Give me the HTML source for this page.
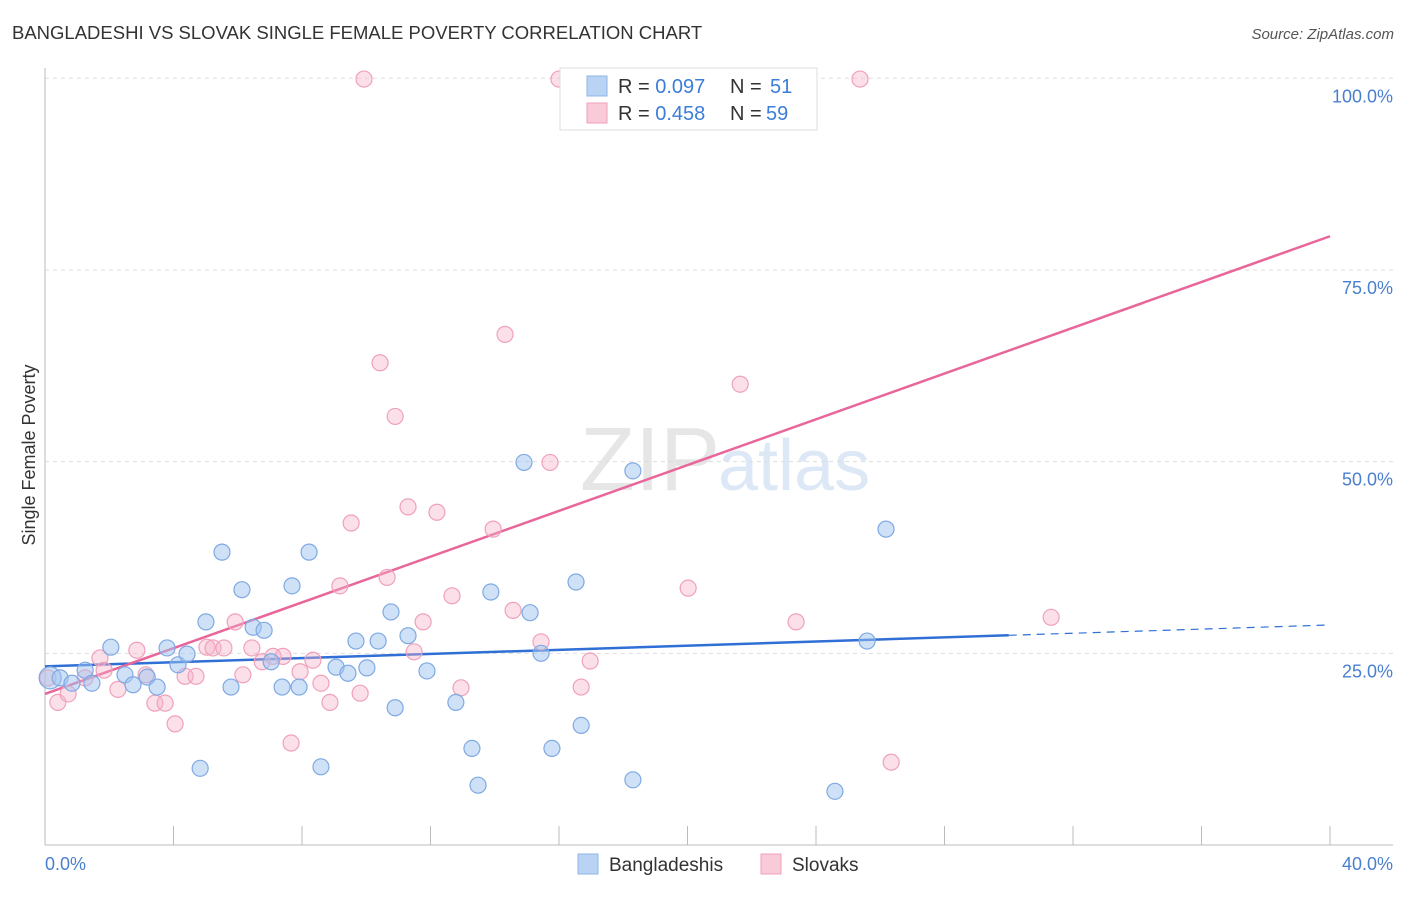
<!DOCTYPE html>
<html><head><meta charset="utf-8"><style>
body{margin:0;background:#fff;font-family:"Liberation Sans",sans-serif}
svg text{font-family:"Liberation Sans",sans-serif}
</style></head><body>
<svg id="chart" width="1406" height="892">
<text x="12" y="39" font-size="18.5" fill="#333">BANGLADESHI VS SLOVAK SINGLE FEMALE POVERTY CORRELATION CHART</text>
<text x="1394" y="39" font-size="15" fill="#555" font-style="italic" text-anchor="end">Source: ZipAtlas.com</text>
<text x="720" y="490" font-size="90" fill="#e6e6e6" text-anchor="end" font-family="Liberation Serif">ZIP</text>
<text x="718" y="490" font-size="72" fill="#dde8f6">atlas</text>
<g id="grid"></g><g id="axes"></g><g id="trends"></g><g id="points"></g>
<text x="35" y="455" font-size="18" fill="#333" text-anchor="middle" transform="rotate(-90 35 455)">Single Female Poverty</text>
<g>
<rect x="560" y="68" width="257" height="62" fill="#fff" stroke="#ddd"/>
<rect x="587" y="76" width="20" height="20" fill="#b9d3f4" stroke="#8fb6e8"/>
<rect x="587" y="103" width="20" height="20" fill="#f9cad8" stroke="#f0a0bb"/>
<text x="618" y="93" font-size="20" fill="#333">R = <tspan fill="#3b7dd8">0.097</tspan></text>
<text x="730" y="93" font-size="20" fill="#333">N = </text><text x="770" y="93" font-size="20" fill="#3b7dd8">51</text>
<text x="618" y="120" font-size="20" fill="#333">R = <tspan fill="#3b7dd8">0.458</tspan></text>
<text x="730" y="120" font-size="20" fill="#333">N = </text><text x="766" y="120" font-size="20" fill="#3b7dd8">59</text>
</g>
<g>
<rect x="578" y="854" width="20" height="20" fill="#b9d3f4" stroke="#8fb6e8"/>
<text x="609" y="871" font-size="19" fill="#333">Bangladeshis</text>
<rect x="761" y="854" width="20" height="20" fill="#f9cad8" stroke="#f0a0bb"/>
<text x="792" y="871" font-size="19" fill="#333">Slovaks</text>
</g>
</svg>
<script>
const xTicks=[0,4,8,12,16,20,24,28,32,36,40];
const yTicks=[25,50,75,100];
const yTickLabels=["25.0%","50.0%","75.0%","100.0%"];
const xEndLabels=["0.0%","40.0%"];
const blueX=[0.16,0.47,0.84,1.25,1.46,2.05,2.49,2.74,3.18,3.49,3.80,4.14,4.42,5.01,5.51,5.79,6.13,6.48,6.82,7.04,7.38,7.69,7.91,8.22,8.59,9.06,9.43,9.68,10.02,10.37,10.77,10.90,11.30,11.89,12.79,13.29,13.48,13.88,14.91,15.10,15.44,15.78,16.53,16.69,18.30,18.30,24.59,25.59,26.18,4.83];
const blueY=[21.8,21.8,21.1,22.8,21.1,25.8,22.2,20.9,21.9,20.6,25.7,23.5,24.9,29.1,38.2,20.6,33.3,28.4,28.0,23.9,20.6,33.8,20.6,38.2,10.2,23.2,22.4,26.6,23.1,26.6,30.4,17.9,27.3,22.7,18.6,12.6,7.8,33.0,49.9,30.3,25.0,12.6,34.3,15.6,48.8,8.5,7.0,26.6,41.2,10.0];
const pinkX=[0.09,0.40,0.72,1.25,1.71,1.84,2.27,2.86,3.14,3.42,3.74,4.05,4.36,4.70,5.04,5.23,5.57,5.92,6.16,6.44,6.76,7.10,7.41,7.66,7.94,8.34,8.59,8.87,9.18,9.53,9.81,9.93,10.43,10.65,10.90,11.30,11.49,11.77,12.20,12.67,12.95,13.95,14.32,14.57,15.44,15.72,16.00,16.69,16.97,20.02,21.64,23.38,25.37,26.34,31.32];
const pinkY=[21.8,18.6,19.7,21.8,24.4,22.8,20.3,25.4,22.2,18.5,18.5,15.8,22.0,22.0,25.8,25.7,25.7,29.1,22.2,25.7,23.9,24.6,24.6,13.3,22.6,24.1,21.1,18.6,33.8,42.0,19.8,99.9,62.9,34.9,55.9,44.1,25.2,29.1,43.4,32.5,20.5,41.2,66.6,30.6,26.5,49.9,99.9,20.6,24.0,33.5,60.1,29.1,99.9,10.8,29.7];
const blueTrend=[23.3,28.7]; const blueSolidEnd=30.0;
const pinkTrend=[19.7,79.4];
const NS="http://www.w3.org/2000/svg";
const X=v=>45+v/40*1285, Y=v=>845-v/100*766.7;
function mk(tag,attrs,parent){const e=document.createElementNS(NS,tag);for(const k in attrs)e.setAttribute(k,attrs[k]);document.getElementById(parent).appendChild(e);return e;}
yTicks.forEach((t,i)=>{
 const g=mk('line',{x1:45,x2:1393,y1:Y(t),y2:Y(t),stroke:'#ddd','stroke-dasharray':'4,4'},'grid');
 
 
 const l=mk('text',{x:1393,y:Y(t)+24,'font-size':18,fill:'#4a7fd0','text-anchor':'end'},'axes');l.textContent=yTickLabels[i];
 
 
});
let ax=mk('line',{x1:45,x2:45,y1:68,y2:845,stroke:'#bbb'},'axes');


ax=mk('line',{x1:45,x2:1393,y1:845,y2:845,stroke:'#bbb'},'axes');


xTicks.forEach(t=>{const k=mk('line',{x1:X(t),x2:X(t),y1:826,y2:845,stroke:'#bbb'},'axes');
 
 });
let t0=mk('text',{x:45,y:870,'font-size':18,fill:'#4a7fd0'},'axes');t0.textContent=xEndLabels[0];


let t1=mk('text',{x:1393,y:870,'font-size':18,fill:'#4a7fd0','text-anchor':'end'},'axes');t1.textContent=xEndLabels[1];


const bt=v=>blueTrend[0]+(blueTrend[1]-blueTrend[0])*v/40;
let l1=mk('line',{x1:X(0),y1:Y(bt(0)),x2:X(blueSolidEnd),y2:Y(bt(blueSolidEnd)),stroke:'#2f6fd6','stroke-width':2.5},'trends');


let l2=mk('line',{x1:X(blueSolidEnd),y1:Y(bt(blueSolidEnd)),x2:X(40),y2:Y(bt(40)),stroke:'#2f6fd6','stroke-width':1.2,'stroke-dasharray':'8,6'},'trends');


let l3=mk('line',{x1:X(0),y1:Y(pinkTrend[0]),x2:X(40),y2:Y(pinkTrend[1]),stroke:'#e8669a','stroke-width':2.5},'trends');


pinkX.forEach((v,i)=>{const c=mk('circle',{cx:X(v),cy:Y(pinkY[i]),r:8,fill:'rgba(246,178,200,0.4)',stroke:'#f0a0bb','stroke-width':1.2},'points');
 
 });
blueX.forEach((v,i)=>{const c=mk('circle',{cx:X(v),cy:Y(blueY[i]),r:i==0?11:8,fill:'rgba(160,196,240,0.5)',stroke:'#7fa9e3','stroke-width':1.2},'points');
 
 });
</script>
</body></html>
